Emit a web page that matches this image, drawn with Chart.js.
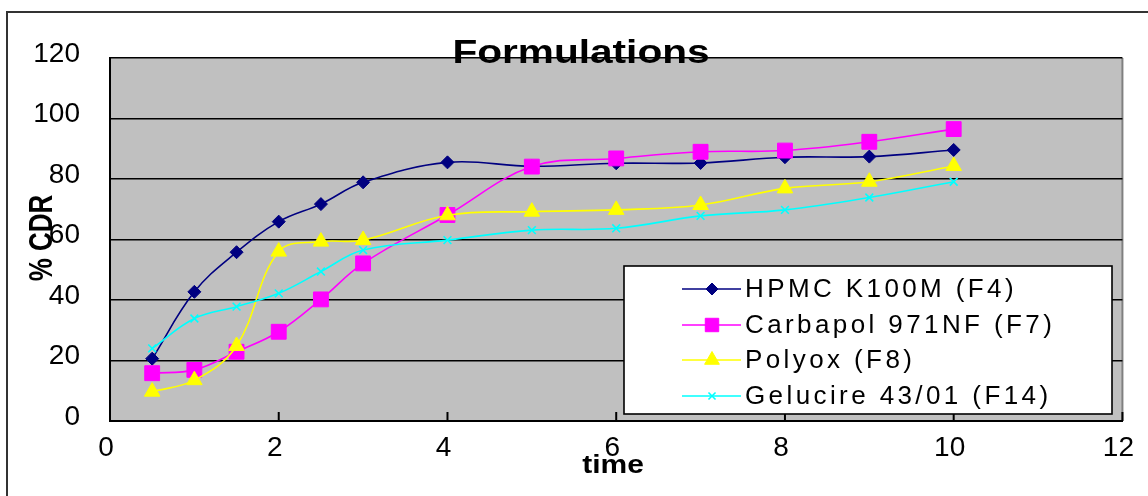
<!DOCTYPE html>
<html><head><meta charset="utf-8">
<script src="https://cdn.jsdelivr.net/npm/chart.js@4/dist/chart.umd.min.js"></script>
<style>html,body{margin:0;padding:0;background:#fff;overflow:hidden}#wrap{width:1148px;height:496px;position:relative}</style>
</head><body><div id="wrap"><canvas id="c"></canvas></div>
<script>
// ---- data ----
const times    = [0.5, 1, 1.5, 2, 2.5, 3, 4, 5, 6, 7, 8, 9, 10];
const hpmc     = [20.6, 42.7, 55.8, 65.9, 71.7, 78.9, 85.5, 84.2, 85.2, 85.3, 87.2, 87.4, 89.6];
const carbapol = [15.8, 16.9, 22.9, 29.5, 40.2, 52.1, 68.1, 84.1, 86.8, 89.0, 89.4, 92.3, 96.5];
const polyox   = [9.7, 13.5, 24.8, 56.0, 59.3, 59.8, 68.0, 69.2, 69.8, 71.4, 76.9, 79.1, 84.3];
const gelucire = [24.0, 33.9, 37.8, 42.2, 49.4, 56.5, 59.8, 63.1, 63.7, 67.8, 69.8, 73.9, 79.1];
const seriesNames = ['HPMC K100M (F4)', 'Carbapol 971NF (F7)', 'Polyox (F8)', 'Gelucire 43/01 (F14)'];
const chartTitle = 'Formulations';
const xTitle = 'time';
const yTitle = '% CDR';
const xMin = 0, xMax = 12, xStep = 2;
const yMin = 0, yMax = 120, yStep = 20;

// ---- styles ----
const colors = ['#000080', '#FF00FF', '#FFFF00', '#00FFFF'];
const pStyles = ['rectRot', 'rect', 'triangle', 'crossRot'];
const pRadius = [6.5, 10.5, 9, 5.5];
const lgRadius = [6, 9.5, 8.5, 5];
const seriesValues = [hpmc, carbapol, polyox, gelucire];
const FONT = '"Liberation Sans", Arial, sans-serif';

const datasets = seriesValues.map((vals, i) => ({
  label: seriesNames[i],
  data: times.map((t, k) => ({x: t, y: vals[k]})),
  borderColor: colors[i],
  backgroundColor: colors[i],
  borderWidth: 1.6,
  tension: 0.38,
  pointStyle: pStyles[i],
  pointRadius: pRadius[i],
  pointBorderWidth: i === 3 ? 1.6 : 1,
  pointBorderColor: colors[i],
  pointBackgroundColor: colors[i],
  order: 4 - i
}));

const drawMarker = (ctx, style, r, x, y) => {
  if (Chart.helpers && Chart.helpers.drawPoint) {
    Chart.helpers.drawPoint(ctx, {pointStyle: style, rotation: 0, radius: r, borderWidth: ctx.lineWidth}, x, y);
  }
};

const decor = {
  id: 'decor',
  beforeDraw(chart) {
    const {ctx, chartArea: a} = chart;
    ctx.save();
    ctx.fillStyle = '#fff';
    ctx.fillRect(0, 0, chart.width, chart.height);
    ctx.strokeStyle = '#333';
    ctx.lineWidth = 2;
    ctx.beginPath();
    ctx.moveTo(7, chart.height + 5); ctx.lineTo(7, 12); ctx.lineTo(chart.width + 5, 12);
    ctx.stroke();
    ctx.fillStyle = '#C0C0C0';
    ctx.fillRect(a.left, a.top, a.right - a.left, a.bottom - a.top);
    ctx.strokeStyle = '#808080';
    ctx.beginPath(); ctx.moveTo(a.right, a.top); ctx.lineTo(a.right, a.bottom); ctx.stroke();
    ctx.restore();
  },
  beforeDatasetsDraw(chart) {
    const {ctx, chartArea: a} = chart;
    const xs = chart.scales.x;
    ctx.save();
    ctx.strokeStyle = '#000';
    ctx.lineWidth = 2;
    for (let v = xMin + xStep; v <= xMax; v += xStep) {
      const px = xs.getPixelForValue(v);
      ctx.beginPath(); ctx.moveTo(px, a.bottom); ctx.lineTo(px, a.bottom - 9); ctx.stroke();
    }
    ctx.restore();
  },
  afterDraw(chart) {
    const ctx = chart.ctx;
    ctx.save();
    ctx.fillStyle = '#000';
    // title
    ctx.save();
    ctx.font = 'bold 33px ' + FONT;
    ctx.textAlign = 'center'; ctx.textBaseline = 'alphabetic';
    ctx.translate(581, 63); ctx.scale(1.23, 1);
    ctx.fillText(chartTitle, 0, 0);
    ctx.restore();
    // x title
    ctx.save();
    ctx.font = 'bold 25px ' + FONT;
    ctx.textAlign = 'center'; ctx.textBaseline = 'alphabetic';
    ctx.translate(613, 473); ctx.scale(1.2, 1);
    ctx.fillText(xTitle, 0, 0);
    ctx.restore();
    // y title
    ctx.save();
    ctx.font = 'bold 26px ' + FONT;
    ctx.textAlign = 'center'; ctx.textBaseline = 'alphabetic';
    ctx.translate(52, 238); ctx.rotate(-Math.PI / 2); ctx.scale(1, 1.25);
    ctx.fillText(yTitle, 0, 0);
    ctx.restore();
    // legend
    const bx = 624, by = 266, bw = 488, bh = 148;
    ctx.fillStyle = '#fff';
    ctx.fillRect(bx, by, bw, bh);
    ctx.strokeStyle = '#000'; ctx.lineWidth = 1.6;
    ctx.strokeRect(bx, by, bw, bh);
    const rows = [289, 325, 360, 396];
    chart.data.datasets.forEach((ds, i) => {
      const y = rows[i];
      ctx.strokeStyle = colors[i]; ctx.fillStyle = colors[i]; ctx.lineWidth = 1.6;
      ctx.beginPath(); ctx.moveTo(682, y); ctx.lineTo(741, y); ctx.stroke();
      ctx.lineWidth = i === 3 ? 1.6 : 1;
      drawMarker(ctx, pStyles[i], lgRadius[i], 712, y);
      ctx.fillStyle = '#000';
      ctx.font = '26px ' + FONT;
      ctx.textAlign = 'left'; ctx.textBaseline = 'middle';
      try { ctx.letterSpacing = '3.4px'; } catch (e) {}
      ctx.fillText(ds.label, 745, y + 1);
      try { ctx.letterSpacing = '0px'; } catch (e) {}
    });
    ctx.restore();
  }
};

new Chart(document.getElementById('c'), {
  type: 'line',
  data: {datasets},
  options: {
    responsive: true,
    maintainAspectRatio: false,
    animation: false,
    layout: {padding: {left: 0, right: 22, top: 58, bottom: 0}},
    plugins: {legend: {display: false}, title: {display: false}, tooltip: {enabled: false}},
    scales: {
      x: {
        type: 'linear', min: xMin, max: xMax,
        ticks: {stepSize: xStep, color: '#000', font: {family: FONT, size: 28}, padding: 10, labelOffset: -4, maxRotation: 0},
        grid: {display: false, drawTicks: false},
        border: {display: true, color: '#000', width: 2},
        afterFit: s => { s.height = 75; }
      },
      y: {
        min: yMin, max: yMax,
        ticks: {stepSize: yStep, color: '#000', font: {family: FONT, size: 28}, padding: 30, labelOffset: -4},
        grid: {color: '#000', lineWidth: 1.5, drawTicks: false},
        border: {display: true, color: '#000', width: 2},
        afterFit: s => { s.width = 110; }
      }
    }
  },
  plugins: [decor]
});
</script>
</body></html>
